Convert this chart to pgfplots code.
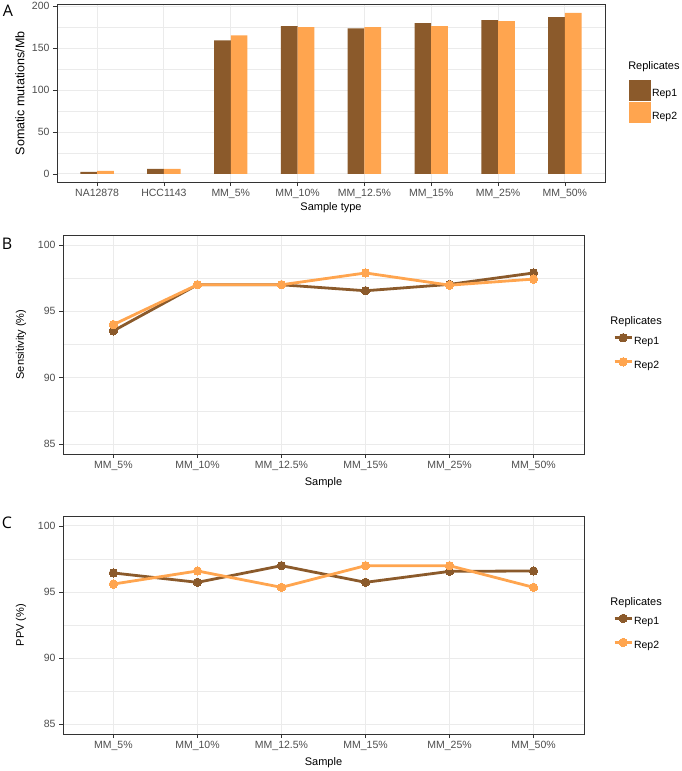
\documentclass[border=0pt]{standalone}
\usepackage{fontspec}
\setmainfont{Liberation Sans}
\newfontfamily\letterfont{Open Sans}
\usepackage{pgfplots}
\pgfplotsset{compat=1.18}

\definecolor{repone}{HTML}{8B5A2B}
\definecolor{reptwo}{HTML}{FFA54F}
\definecolor{gridc}{HTML}{EBEBEB}
\definecolor{framec}{HTML}{333333}
\definecolor{ticktext}{HTML}{4D4D4D}

\newcommand{\ticksize}{\fontsize{10.5}{12}\selectfont}
\newcommand{\titlesize}{\fontsize{11}{13}\selectfont}

\pgfplotsset{
  ggbase/.style={
    scale only axis,
    clip mode=individual,
    axis line style={framec, line width=0.6pt},
    tick align=outside,
    tick pos=left,
    major tick length=4pt,
    minor tick length=0pt,
    tick style={framec, line width=0.6pt},
    xmajorgrids, ymajorgrids, yminorgrids,
    major grid style={gridc, line width=0.9pt},
    minor grid style={gridc, line width=0.45pt},
    tick label style={font=\ticksize, text=ticktext},
    label style={font=\titlesize},
    /pgf/number format/assume math mode=true,
    legend cell align=left,
  },
  ggline/.style={
    xmin=-0.6, xmax=5.6, ymin=84.25, ymax=100.75,
    xtick={0,...,5},
    xticklabels={MM\_5\%,MM\_10\%,MM\_12.5\%,MM\_15\%,MM\_25\%,MM\_50\%},
    ytick={85,90,95,100}, minor ytick={87.5,92.5,97.5},
    xlabel={Sample},
    xlabel style={at={(axis description cs:0.5,0)}, anchor=center, yshift=-29pt},
    ylabel style={at={(axis description cs:-0.0806,0.5)}, anchor=center},
    legend style={at={(axis description cs:1.05,0.56)}, anchor=north west,
      draw=none, fill=none, font=\ticksize, row sep=11pt,
      nodes={inner sep=1pt}},
  },
  repline/.style={color=#1, line width=2.8pt, mark=*, mark size=4.2pt,
    mark options={fill=#1, draw=#1, line width=0pt},
    legend image code/.code={\draw[mark repeat=2, mark phase=2, ##1]
      plot coordinates {(0pt,3.5pt) (8.5pt,3.5pt) (17pt,3.5pt)};}},
  repbar/.style={ybar, bar width=0.25, fill=#1, draw=none,
    legend image code/.code={\fill[#1] (0pt,-7pt) rectangle (22pt,14pt);}},
}

\begin{document}
\begin{tikzpicture}
\path[use as bounding box] (0,0) rectangle (681pt,-771pt);

% panel letters
\node[font=\letterfont\fontsize{16}{17}\selectfont] at (8pt,-11pt) {A};
\node[font=\letterfont\fontsize{16}{17}\selectfont] at (7pt,-244pt) {B};
\node[font=\letterfont\fontsize{16}{17}\selectfont] at (7pt,-523pt) {C};

% (A) somatic mutation rate per sample
\begin{axis}[ggbase,
  at={(57pt,-4.7pt)}, anchor=north west, width=548pt, height=177.3pt,
  xmin=-0.6, xmax=7.6, ymin=-9.6, ymax=201.6,
  xtick={0,...,7},
  xticklabels={NA12878,HCC1143,MM\_5\%,MM\_10\%,MM\_12.5\%,MM\_15\%,MM\_25\%,MM\_50\%},
  ytick={0,50,...,200}, minor ytick={25,75,125,175},
  xlabel={Sample type}, ylabel={Somatic mutations/Mb},
  xlabel style={at={(axis description cs:0.5,0)}, anchor=center, yshift=-26pt},
  ylabel style={at={(axis description cs:-0.0675,0.5)}, anchor=center,
    font=\fontsize{12.5}{14}\selectfont},
  legend style={at={(axis description cs:1.038,0.588)}, anchor=north west,
    draw=none, fill=none, font=\ticksize, row sep=1.5pt,
    nodes={inner sep=1pt}},
]
\addplot[repbar=repone, bar shift=-0.125] coordinates {
  (0,2.4) (1,6.0) (2,159.1) (3,176.2) (4,173.4) (5,179.8) (6,183.3) (7,186.9)};
\addlegendentry{Rep1}
\addplot[repbar=reptwo, bar shift=0.125] coordinates {
  (0,3.6) (1,6.0) (2,165.1) (3,175.0) (4,175.0) (5,176.2) (6,182.1) (7,192.0)};
\addlegendentry{Rep2}
\node[anchor=west, font=\titlesize] at (axis description cs:1.036,0.649) {Replicates};
\end{axis}

% (B) sensitivity
\begin{axis}[ggbase, ggline,
  at={(63pt,-235pt)}, anchor=north west, width=521pt, height=219pt,
  ylabel={Sensitivity (\%)},
]
\addplot[repline=repone] coordinates {
  (0,93.53) (1,97.00) (2,97.00) (3,96.55) (4,97.03) (5,97.89)};
\addlegendentry{Rep1}
\addplot[repline=reptwo] coordinates {
  (0,94.00) (1,97.00) (2,97.00) (3,97.89) (4,96.97) (5,97.43)};
\addlegendentry{Rep2}
\node[anchor=west, font=\titlesize] at (axis description cs:1.044,0.603) {Replicates};
\end{axis}

% (C) PPV
\begin{axis}[ggbase, ggline,
  at={(63pt,-516pt)}, anchor=north west, width=521pt, height=218pt,
  ylabel={PPV (\%)},
]
\addplot[repline=repone] coordinates {
  (0,96.44) (1,95.73) (2,96.99) (3,95.73) (4,96.56) (5,96.59)};
\addlegendentry{Rep1}
\addplot[repline=reptwo] coordinates {
  (0,95.60) (1,96.59) (2,95.35) (3,96.99) (4,96.99) (5,95.35)};
\addlegendentry{Rep2}
\node[anchor=west, font=\titlesize] at (axis description cs:1.044,0.603) {Replicates};
\end{axis}
\end{tikzpicture}
\end{document}
